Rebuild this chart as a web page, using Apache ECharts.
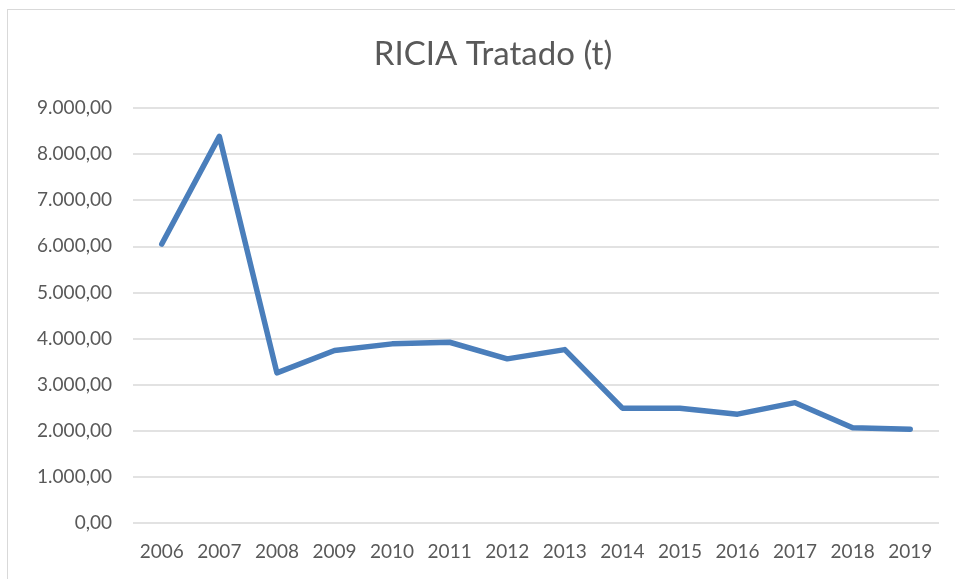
<!DOCTYPE html>
<html>
<head>
<meta charset="utf-8">
<script src="https://cdn.jsdelivr.net/npm/echarts@6/dist/echarts.min.js"></script>
<style>
  html, body { margin: 0; padding: 0; background: #fff; }
  #frame { position: absolute; left: 7px; top: 9px; width: 960px; height: 600px; border: 1px solid #d9d9d9; box-sizing: border-box; }
  #main { position: absolute; left: 0; top: 0; width: 955px; height: 579px; }
</style>
</head>
<body>
<div id="frame"></div>
<div id="main"></div>
<script>
// anos e toneladas tratadas
const anos = ['2006', '2007', '2008', '2009', '2010', '2011', '2012', '2013', '2014', '2015', '2016', '2017', '2018', '2019'];
const tratado = [6050, 8385, 3255, 3740, 3885, 3920, 3560, 3760, 2490, 2490, 2360, 2610, 2065, 2035];

const textColor = '#595959';
const fmt = v => v.toLocaleString('pt-BR', { minimumFractionDigits: 2, maximumFractionDigits: 2 });

const myChart = echarts.init(document.getElementById('main'));
const option = {
  animation: false,
  title: {
    text: 'RICIA Tratado (t)',
    left: 488,
    textAlign: 'center',
    top: 33,
    textStyle: { fontFamily: 'Lato', fontSize: 33, fontWeight: 'normal', color: textColor }
  },
  grid: { left: 133, right: 16, top: 108, bottom: 56 },
  xAxis: {
    type: 'category',
    data: anos,
    boundaryGap: true,
    axisLine: { show: false },
    axisTick: { show: false },
    axisLabel: { color: textColor, fontFamily: 'Lato', fontSize: 19, margin: 19 }
  },
  yAxis: {
    type: 'value',
    min: 0,
    max: 9000,
    interval: 1000,
    axisLine: { show: false },
    axisTick: { show: false },
    splitLine: { lineStyle: { color: '#d9d9d9', width: 1.5 } },
    axisLabel: { color: textColor, fontFamily: 'Lato', fontSize: 19, margin: 21, formatter: fmt }
  },
  series: [{
    type: 'line',
    data: tratado,
    symbol: 'none',
    lineStyle: { color: '#4a7ebb', width: 5.5, cap: 'round', join: 'round' }
  }]
};
myChart.setOption(option);
</script>
</body>
</html>
